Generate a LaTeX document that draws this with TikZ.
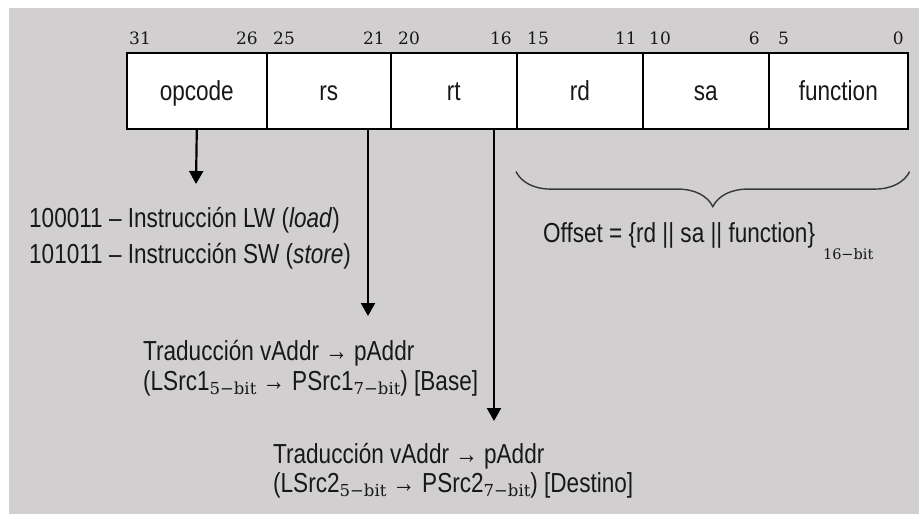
\documentclass[tikz,border=0pt]{standalone}
\usepackage{fontspec}
\setmainfont[FakeStretch=0.82]{Liberation Sans}
\newfontfamily\bitfont{DejaVu Serif}
\usetikzlibrary{arrows.meta,decorations.pathreplacing,calc}
\definecolor{panel}{RGB}{210,207,209}
\definecolor{ink}{RGB}{24,24,24}
\definecolor{bracegray}{RGB}{55,55,55}
\newcommand{\lbl}{\fontsize{27.5}{30}\selectfont}
\newcommand{\bitnum}{\fontsize{17}{18}\selectfont\bitfont}
\newcommand{\bitsub}[1]{\raisebox{-4pt}{\fontsize{16.5}{17}\selectfont\bitfont #1}}
\tikzset{
  field/.style={draw=black, line width=1.6pt, fill=white, minimum height=76pt,
    inner sep=0pt, anchor=north west, font=\lbl, text=ink,
    text height=25pt, text depth=5pt},
  bitlbl/.style={inner sep=0pt, font=\bitnum, text=ink},
  txt/.style={inner sep=0pt, anchor=base west, font=\lbl, text=ink},
  arr/.style={line width=2.2pt, -{Triangle[length=13pt,width=14pt]}},
}
\begin{document}
\begin{tikzpicture}[x=1pt,y=-1pt]
\useasboundingbox (0,0) rectangle (919,514);
\fill[panel] (9,8) rectangle (919,514);

% instruction word fields
\node[field, minimum width=140pt] (op) at (126,52) {opcode};
\node[field, minimum width=124pt] (rs) at (266,52) {rs};
\node[field, minimum width=126pt] (rt) at (390,52) {rt};
\node[field, minimum width=126pt] (rd) at (516,52) {rd};
\node[field, minimum width=126pt] (sa) at (642,52) {sa};
\node[field, minimum width=139pt] (fn) at (768,52) {function};

% bit positions
\node[bitlbl, anchor=base west] (b31) at (129,45) {31};
\node[bitlbl, anchor=base east] (b26) at (258,45) {26};
\node[bitlbl, anchor=base west] (b25) at (273,45) {25};
\node[bitlbl, anchor=base east] (b21) at (385,45) {21};
\node[bitlbl, anchor=base west] (b20) at (398,45) {20};
\node[bitlbl, anchor=base east] (b16) at (512,45) {16};
\node[bitlbl, anchor=base west] (b15) at (527,45) {15};
\node[bitlbl, anchor=base east] (b11) at (637,45) {11};
\node[bitlbl, anchor=base west] (b10) at (649,45) {10};
\node[bitlbl, anchor=base east] (b6) at (760,45) {6};
\node[bitlbl, anchor=base west] (b5) at (778,45) {5};
\node[bitlbl, anchor=base east] (b0) at (904,45) {0};

% arrow end points
\coordinate (tipOp) at (196,184);
\coordinate (tipRs) at (368,316);
\coordinate (tipRt) at (494,421);

\draw[arr] (op.south) -- (tipOp);
\draw[arr] (rs.south -| tipRs) -- (tipRs);
\draw[arr] (rt.south -| tipRt) -- (tipRt);

% opcode values
\node[txt] (lw) at (29,227) {100011 – Instrucción LW (\textit{load})};
\node[txt] (sw) at (29,263) {101011 – Instrucción SW (\textit{store})};

% base register translation
\node[txt] (trA) at (143,360) {Traducción vAddr → pAddr};
\node[txt] (trB) at (143,390) {(LSrc1\bitsub{5−bit} →\hspace{7pt}PSrc1\bitsub{7−bit}) [Base]};

% destination register translation
\node[txt] (tdA) at (273,463) {Traducción vAddr → pAddr};
\node[txt] (tdB) at (273,492) {(LSrc2\bitsub{5−bit} →\hspace{7pt}PSrc2\bitsub{7−bit}) [Destino]};

% offset brace
\coordinate (brL) at ($(rd.south west)+(0,42)$);
\coordinate (brR) at ($(fn.south east)+(1,42)$);
\draw[bracegray, line width=1.4pt, decorate,
      decoration={brace, amplitude=35pt}] (brR) -- (brL);

\node[txt] (off) at (543,242) {Offset = \{rd || sa || function\}\hspace{8pt}\raisebox{-17pt}{\fontsize{14.5}{15}\selectfont\bitfont 16−bit}};
\end{tikzpicture}
\end{document}
